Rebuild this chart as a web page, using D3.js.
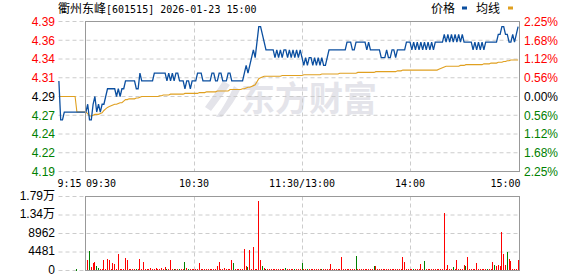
<!DOCTYPE html>
<html><head><meta charset="utf-8">
<script src="https://cdn.jsdelivr.net/npm/d3@7"></script>
<style>
html,body{margin:0;padding:0;background:#fff;}
svg{display:block;}
</style></head><body>
<svg id="c" width="578" height="276"></svg>
<script>
// ---------- data ----------
const titleName = "衢州东峰";
const titleRest = "[601515] 2026-01-23 15:00";
const legendLabels = ["价格", "均线"];
const watermarkText = "东方财富";
const prevClose = 4.29;
const pctRange = 0.0225;
const priceTickLabels = ["4.39","4.36","4.34","4.31","4.29","4.27","4.24","4.22","4.19"];
const pctTickLabels = ["2.25%","1.68%","1.12%","0.56%","0.00%","0.56%","1.12%","1.68%","2.25%"];
const volTickLabels = ["1.79万","1.34万","8962","4481","0"];
const volMax = 17924;
const timeLabels = ["9:15","09:30","10:30","11:30/13:00","14:00","15:00"];
const timeIndex = [-15, 0, 60, 120, 180, 240];
const gridIndex = [60, 120, 180];

// call auction 9:15 .. 9:25
const prePrice = [4.31,4.26,4.26,4.27,4.27,4.27,4.27,4.27,4.27,4.27,4.27];
const preAvg   = [4.29,4.29,4.29,4.29,4.29,4.29,4.29,4.29,4.29,4.29,4.27];
const preVol   = [0,0,0,0,0,0,0,0,0,0,330];
const preDir   = [1,1,1,1,1,1,1,1,1,1,-1];

// morning 9:30 .. 11:30
const amPrice = [
 4.27,4.28,4.26,4.26,4.28,4.29,4.27,4.28,4.27,4.28,
 4.28,4.29,4.30,4.30,4.30,4.30,4.30,4.29,4.30,4.29,
 4.30,4.30,4.31,4.31,4.31,4.31,4.31,4.31,4.30,4.30,
 4.32,4.31,4.31,4.31,4.31,4.31,4.31,4.31,4.32,4.32,
 4.32,4.32,4.32,4.32,4.32,4.31,4.32,4.31,4.32,4.31,
 4.32,4.32,4.31,4.31,4.31,4.30,4.31,4.31,4.30,4.31,
 4.31,4.31,4.32,4.32,4.32,4.31,4.31,4.31,4.31,4.31,
 4.32,4.32,4.31,4.31,4.32,4.32,4.31,4.31,4.31,4.32,
 4.32,4.31,4.31,4.31,4.31,4.31,4.31,4.31,4.32,4.33,
 4.32,4.33,4.34,4.35,4.34,4.36,4.38,4.38,4.37,4.36,
 4.35,4.35,4.35,4.35,4.35,4.34,4.35,4.34,4.35,4.34,
 4.35,4.35,4.34,4.35,4.34,4.35,4.34,4.35,4.34,4.35,4.34];
const amAvg = [
 4.270,4.268,4.265,4.265,4.266,4.267,4.267,4.267,4.268,4.269,
 4.272,4.274,4.276,4.277,4.278,4.279,4.280,4.280,4.281,4.282,
 4.282,4.284,4.286,4.286,4.287,4.287,4.287,4.287,4.288,4.288,
 4.289,4.290,4.290,4.290,4.290,4.290,4.290,4.290,4.290,4.290,
 4.290,4.291,4.291,4.292,4.292,4.292,4.292,4.293,4.293,4.293,
 4.293,4.293,4.293,4.293,4.293,4.294,4.294,4.294,4.294,4.294,
 4.294,4.294,4.294,4.295,4.295,4.295,4.295,4.296,4.296,4.296,
 4.296,4.296,4.296,4.297,4.297,4.297,4.297,4.297,4.297,4.297,
 4.299,4.299,4.299,4.299,4.299,4.299,4.299,4.300,4.300,4.301,
 4.302,4.302,4.303,4.304,4.305,4.309,4.313,4.314,4.315,4.316,
 4.316,4.316,4.316,4.316,4.316,4.316,4.316,4.316,4.316,4.317,
 4.317,4.317,4.317,4.317,4.317,4.317,4.317,4.317,4.317,4.317,4.317];
const amVol = [
 300,2540,4700,740,1880,2100,1060,500,250,300,
 2540,300,2780,2540,250,1880,1550,300,4000,300,
 250,300,3000,2540,400,300,250,300,300,250,
 2780,300,2050,250,300,300,600,250,300,500,
 250,300,600,250,740,300,250,2500,300,250,
 300,250,300,250,300,2050,500,300,250,300,
 250,300,250,1800,300,250,300,250,300,250,
 300,400,300,1000,2050,300,250,500,300,250,
 300,2540,1800,300,300,250,300,400,5200,1000,
 800,5000,400,5700,400,300,16800,2540,1060,500,
 300,400,250,300,300,250,300,250,300,250,
 250,600,300,250,300,250,400,300,250,300,1800];
const amDir = [
 1,1,-1,1,1,1,-1,-1,1,1,
 1,1,1,1,1,1,1,1,1,1,
 1,1,1,1,1,1,1,1,-1,1,
 1,1,1,1,1,1,1,1,1,1,
 1,1,1,1,1,-1,1,1,1,-1,
 1,1,-1,1,1,-1,1,-1,1,1,
 1,1,1,1,1,1,1,1,1,1,
 1,1,1,1,1,1,1,1,1,1,
 1,1,-1,1,1,1,1,1,1,1,
 -1,1,1,1,1,1,1,1,-1,1,
 -1,1,1,1,1,1,1,1,1,1,
 1,-1,1,1,1,1,-1,1,1,1,-1];

// afternoon 13:01 .. 15:00
const pmPrice = [
 4.33,4.34,4.33,4.34,4.34,4.33,4.34,4.33,4.34,4.33,
 4.34,4.33,4.33,4.34,4.35,4.35,4.35,4.35,4.35,4.35,
 4.35,4.35,4.35,4.35,4.36,4.36,4.36,4.35,4.35,4.36,
 4.36,4.36,4.36,4.36,4.36,4.35,4.36,4.35,4.35,4.35,
 4.35,4.35,4.35,4.34,4.34,4.34,4.35,4.34,4.34,4.35,
 4.35,4.34,4.35,4.35,4.35,4.35,4.35,4.36,4.36,4.36,
 4.35,4.36,4.35,4.36,4.35,4.36,4.35,4.36,4.35,4.36,
 4.35,4.36,4.35,4.36,4.36,4.36,4.36,4.36,4.37,4.36,
 4.37,4.36,4.37,4.36,4.37,4.36,4.37,4.36,4.37,4.36,
 4.36,4.36,4.36,4.36,4.35,4.36,4.35,4.36,4.35,4.36,
 4.35,4.36,4.36,4.36,4.36,4.36,4.36,4.36,4.37,4.37,
 4.38,4.38,4.37,4.37,4.36,4.36,4.37,4.36,4.37,4.38];
const pmAvg = [
 4.318,4.318,4.318,4.318,4.318,4.318,4.318,4.318,4.318,4.318,
 4.319,4.319,4.319,4.319,4.319,4.319,4.319,4.319,4.319,4.319,
 4.320,4.320,4.320,4.320,4.320,4.320,4.320,4.320,4.320,4.320,
 4.321,4.321,4.321,4.321,4.321,4.321,4.321,4.321,4.321,4.321,
 4.322,4.322,4.322,4.322,4.322,4.322,4.322,4.322,4.322,4.322,
 4.322,4.322,4.323,4.323,4.323,4.324,4.324,4.324,4.324,4.324,
 4.324,4.324,4.324,4.324,4.324,4.324,4.324,4.324,4.324,4.324,
 4.324,4.324,4.324,4.324,4.324,4.325,4.326,4.327,4.328,4.329,
 4.329,4.329,4.329,4.329,4.329,4.329,4.329,4.330,4.330,4.330,
 4.331,4.331,4.331,4.331,4.331,4.331,4.331,4.331,4.331,4.331,
 4.332,4.332,4.332,4.332,4.333,4.333,4.333,4.333,4.334,4.334,
 4.334,4.335,4.335,4.336,4.336,4.337,4.337,4.337,4.337,4.337];
const pmVol = [
 300,250,300,250,300,250,450,250,300,250,
 300,250,300,250,300,1560,300,250,300,250,
 300,3270,300,250,300,250,300,250,300,3600,
 300,250,300,250,300,250,300,250,300,1060,
 1060,300,250,300,250,300,250,300,250,300,
 250,300,250,300,250,3270,2130,300,250,300,
 250,300,250,300,250,1630,300,2370,300,250,
 300,250,300,250,300,250,300,400,13830,300,
 1300,300,250,800,300,2540,300,250,300,1300,
 1060,3270,300,250,300,250,1800,300,250,300,
 300,250,300,250,300,2050,1300,1060,1300,1060,
 9400,4000,1300,4500,2780,2290,400,300,250,2540];
const pmDir = [
 1,1,-1,1,1,1,1,1,1,1,
 -1,1,1,1,1,1,1,1,1,1,
 1,1,1,1,1,1,1,1,1,-1,
 1,1,1,1,1,1,1,1,1,-1,
 1,1,1,1,1,1,1,1,1,1,
 1,1,1,1,1,1,1,1,1,1,
 1,-1,1,1,1,1,1,-1,1,1,
 1,1,1,1,1,1,1,1,1,1,
 1,1,1,-1,1,1,1,1,1,1,
 -1,1,1,1,1,1,1,1,1,1,
 1,1,-1,1,1,1,-1,1,1,1,
 1,1,1,-1,1,1,1,1,1,1];

// ---------- build ----------
const pts = [];
prePrice.forEach((p,k)=>pts.push({i:k-15, p, a:preAvg[k], v:preVol[k], d:preDir[k]}));
amPrice.forEach((p,m)=>pts.push({i:m, p, a:amAvg[m], v:amVol[m], d:amDir[m]}));
pmPrice.forEach((p,n)=>pts.push({i:121+n, p, a:pmAvg[n], v:pmVol[n], d:pmDir[n]}));

const L = 85, R = 519, extL = 58.5;
const pTop = 21.5, pBot = 171.5, vTop = 196.5, vBot = 270.5;
const RED = "#ff0000", GREEN = "#008000", BLACK = "#000";
const GRID = "#cccccc", BORDER = "#999999";
const LAT = "'Liberation Sans', Arial, 'Noto Sans CJK SC', sans-serif";
const CJK = "'Noto Sans CJK SC', sans-serif";
const MONO = "'DejaVu Sans Mono', monospace";

const svg = d3.select("#c");
const x = d3.scaleLinear().domain([-0.5, 240.5]).range([L, R]);
const lo = prevClose*(1-pctRange), hi = prevClose*(1+pctRange);
const y = d3.scaleLinear().domain([lo, hi]).range([pBot, pTop]);
const yv = d3.scaleLinear().domain([0, volMax]).range([vBot, vTop]);
const priceTicks = priceTickLabels.map((t,k)=>hi - k*(hi-lo)/(priceTickLabels.length-1));
const volTicks = volTickLabels.map((t,k)=>volMax - k*volMax/(volTickLabels.length-1));

// watermark
const wm = svg.append("g").attr("fill", "#e4e4ea");
wm.append("path").attr("d", "M223 81 C217 90 211 99 205 107 L211 111 C218 102 224 93 230 85 Z");
wm.append("path").attr("d", "M234 86 C229 97 223 108 216 117 L222 117 C230 108 236 98 240 90 Z");
wm.append("text").attr("x", 241).attr("y", 111).attr("font-family", CJK)
  .attr("font-weight", "bold").attr("font-size", 34).text(watermarkText);

// grids
const grid = svg.append("g").attr("stroke", GRID).attr("stroke-dasharray", "4,3").attr("stroke-width", 1);
priceTicks.forEach(v=>grid.append("line").attr("x1", extL).attr("x2", R).attr("y1", y(v)).attr("y2", y(v)));
volTicks.forEach(v=>grid.append("line").attr("x1", extL).attr("x2", R).attr("y1", yv(v)).attr("y2", yv(v)));
gridIndex.forEach(i=>{
  const gx = Math.round(x(i)) + 0.5;
  grid.append("line").attr("x1", gx).attr("x2", gx).attr("y1", pTop).attr("y2", pBot);
  grid.append("line").attr("x1", gx).attr("x2", gx).attr("y1", vTop).attr("y2", vBot);
});

// volume bars
svg.append("g").selectAll("rect").data(pts.filter(d=>d.v>0)).join("rect")
  .attr("x", d=>Math.floor(x(d.i)))
  .attr("width", 1)
  .attr("y", d=>Math.min(yv(d.v), vBot-1))
  .attr("height", d=>Math.max(1, vBot - yv(d.v)))
  .attr("fill", d=>d.d>0?RED:GREEN)
  .attr("shape-rendering", "crispEdges");

// lines
const avgLine = d3.line().x(d=>x(d.i)).y(d=>y(d.a));
const priceLine = d3.line().x(d=>x(d.i)).y(d=>y(d.p));
svg.append("path").datum(pts).attr("d", avgLine).attr("fill", "none")
  .attr("stroke", "#e0a020").attr("stroke-width", 1.1);
svg.append("path").datum(pts).attr("d", priceLine).attr("fill", "none")
  .attr("stroke", "#0b4fa0").attr("stroke-width", 1.3).attr("stroke-linejoin", "miter");

// borders
svg.append("rect").attr("x", L+0.5).attr("y", pTop).attr("width", R-L).attr("height", pBot-pTop)
  .attr("fill", "none").attr("stroke", BORDER);
svg.append("rect").attr("x", L+0.5).attr("y", vTop).attr("width", R-L).attr("height", vBot-vTop)
  .attr("fill", "none").attr("stroke", BORDER);

// price labels
const colorAt = k => k < 4 ? RED : (k === 4 ? BLACK : GREEN);
svg.append("g").selectAll("text").data(priceTicks).join("text")
  .attr("x", 55).attr("y", v=>y(v)).attr("dy", "0.36em").attr("text-anchor", "end")
  .attr("font-family", LAT).attr("font-size", 12)
  .attr("fill", (v,k)=>colorAt(k)).text((v,k)=>priceTickLabels[k]);
svg.append("g").selectAll("text").data(priceTicks).join("text")
  .attr("x", 524).attr("y", v=>y(v)).attr("dy", "0.36em").attr("text-anchor", "start")
  .attr("font-family", LAT).attr("font-size", 12)
  .attr("fill", (v,k)=>colorAt(k)).text((v,k)=>pctTickLabels[k]);
svg.append("g").selectAll("text").data(volTicks).join("text")
  .attr("x", 55).attr("y", v=>yv(v) - 1).attr("dy", "0.36em").attr("text-anchor", "end")
  .attr("font-family", LAT).attr("font-size", 12)
  .attr("fill", BLACK).text((v,k)=>volTickLabels[k]);

// time labels
timeLabels.forEach((t,k)=>{
  const anchor = k < 2 ? "start" : (k === timeLabels.length-1 ? "end" : "middle");
  let tx = x(timeIndex[k]);
  if (k === 0) tx = x(timeIndex[k]) - 1.5;
  if (k === timeLabels.length-1) tx = R + 1.5;
  svg.append("text").attr("x", tx).attr("y", 187).attr("text-anchor", anchor)
    .attr("font-family", MONO).attr("font-size", 10).attr("fill", BLACK).text(t);
});

// title
const tt = svg.append("text").attr("x", 58).attr("y", 12.5).attr("fill", BLACK);
tt.append("tspan").attr("font-family", CJK).attr("font-size", 12).text(titleName);
tt.append("tspan").attr("font-family", MONO).attr("font-size", 10).text(titleRest);

// legend
const lg = svg.append("g");
lg.append("text").attr("x", 431).attr("y", 12.5).attr("font-family", CJK).attr("font-size", 12).attr("fill", BLACK).text(legendLabels[0]);
lg.append("rect").attr("x", 462).attr("y", 6.5).attr("width", 5).attr("height", 3).attr("fill", "#0b4fa0");
lg.append("text").attr("x", 476).attr("y", 12.5).attr("font-family", CJK).attr("font-size", 12).attr("fill", BLACK).text(legendLabels[1]);
lg.append("rect").attr("x", 508).attr("y", 6.5).attr("width", 5).attr("height", 3).attr("fill", "#e0a020");
</script>
</body></html>
